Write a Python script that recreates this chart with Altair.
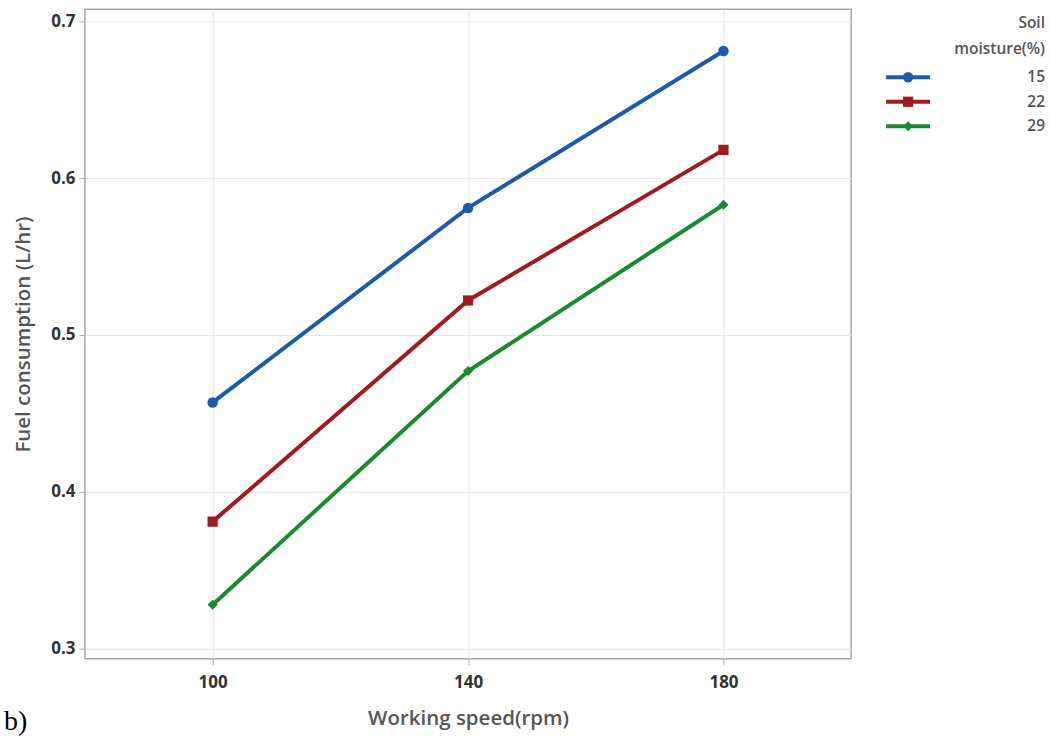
import altair as alt
import pandas as pd

# Working speed levels (rpm) and soil moisture groups (%)
speed = [100, 140, 180]
moisture = ["15", "22", "29"]

# Fuel consumption (L/hr) per moisture group
fuel_15 = [0.457, 0.581, 0.681]
fuel_22 = [0.381, 0.522, 0.618]
fuel_29 = [0.328, 0.477, 0.583]

colors = ["#1d5ba9", "#a01b1f", "#1b8a2f"]
shapes = ["circle", "square", "diamond"]
marker_sizes = [110, 100, 200]
legend_marker_sizes = [75, 70, 120]
legend_title = ["Soil", "moisture(%)"]

rows = []
for m, vals in zip(moisture, [fuel_15, fuel_22, fuel_29]):
    for s, v in zip(speed, vals):
        rows.append({"speed": s, "fuel": v, "moisture": m})
df = pd.DataFrame(rows)

color_scale = alt.Scale(domain=moisture, range=colors)
shape_scale = alt.Scale(domain=moisture, range=shapes)

FONT = "Open Sans"

base = alt.Chart(df).encode(
    x=alt.X(
        "speed:Q",
        scale=alt.Scale(domain=[80, 200], nice=False, zero=False),
        axis=alt.Axis(
            values=speed, title="Working speed(rpm)", titleFontSize=20.5,
            titlePadding=18, labelPadding=10,
        ),
    ),
    y=alt.Y(
        "fuel:Q",
        scale=alt.Scale(domain=[0.2936, 0.7076], nice=False, zero=False),
        axis=alt.Axis(
            values=[0.3, 0.4, 0.5, 0.6, 0.7], format=".1f",
            title="Fuel consumption (L/hr)", titleFontSize=20.5,
            titlePadding=17, labelPadding=4,
        ),
    ),
    color=alt.Color("moisture:N", scale=color_scale, legend=None),
)

lines = base.mark_line(strokeWidth=4)
points = base.mark_point(filled=True, opacity=1).encode(
    shape=alt.Shape("moisture:N", scale=shape_scale, legend=None),
    size=alt.Size("moisture:N", legend=None,
                  scale=alt.Scale(domain=moisture, range=marker_sizes)),
)

main = (lines + points).properties(
    width=767,
    height=650,
    title=alt.TitleParams(
        "b)", orient="bottom", anchor="start", frame="group",
        font="Liberation Serif", fontSize=28, fontWeight="normal",
        color="black", offset=-21, dx=-81,
    ),
)

# Hand-built legend: heading, then a short line with the marker and a label
leg_df = pd.DataFrame({"moisture": moisture})
head_df = pd.DataFrame({"line": legend_title})
leg_y = alt.Y(
    "moisture:N", axis=None,
    scale=alt.Scale(type="point", domain=moisture, range=[68, 117], padding=0),
)
leg_color = alt.Color("moisture:N", scale=color_scale, legend=None)

leg_head = alt.Chart(head_df).mark_text(
    align="right", baseline="middle", font=FONT, fontSize=15.5,
    fontWeight=600, color="#555",
).encode(
    y=alt.Y("line:N", axis=None, sort=legend_title,
            scale=alt.Scale(type="point", range=[14, 40], padding=0)),
    x=alt.value(165), text="line:N",
)
leg_line = alt.Chart(leg_df).mark_rule(strokeWidth=4).encode(
    y=leg_y, x=alt.value(6), x2=alt.value(50), color=leg_color
)
leg_point = alt.Chart(leg_df).mark_point(filled=True, opacity=1).encode(
    y=leg_y, x=alt.value(28), color=leg_color,
    shape=alt.Shape("moisture:N", scale=shape_scale, legend=None),
    size=alt.Size("moisture:N", legend=None,
                  scale=alt.Scale(domain=moisture, range=legend_marker_sizes)),
)
leg_text = alt.Chart(leg_df).mark_text(
    align="right", baseline="middle", font=FONT, fontSize=15.5,
    fontWeight=600, color="#555",
).encode(y=leg_y, x=alt.value(165), text="moisture:N")

legend = (leg_head + leg_line + leg_point + leg_text).resolve_scale(
    y="independent"
).properties(width=165, height=130, view=alt.ViewConfig(stroke=None))

chart = alt.hconcat(main, legend, spacing=28).properties(
    padding={"left": 3, "top": 8, "right": 5, "bottom": 0},
    background="white",
).configure_view(
    stroke="#a9a9a9", strokeWidth=1.5
).configure_axis(
    labelFont=FONT, titleFont=FONT, labelFontSize=17, labelFontWeight="bold",
    labelColor="#333333", titleColor="#555555", titleFontWeight=600,
    domain=False, tickColor="#aaaaaa", tickSize=6, gridColor="#e6e6e6",
)

chart.save("out.html", embed_options={"renderer": "svg", "actions": False})
